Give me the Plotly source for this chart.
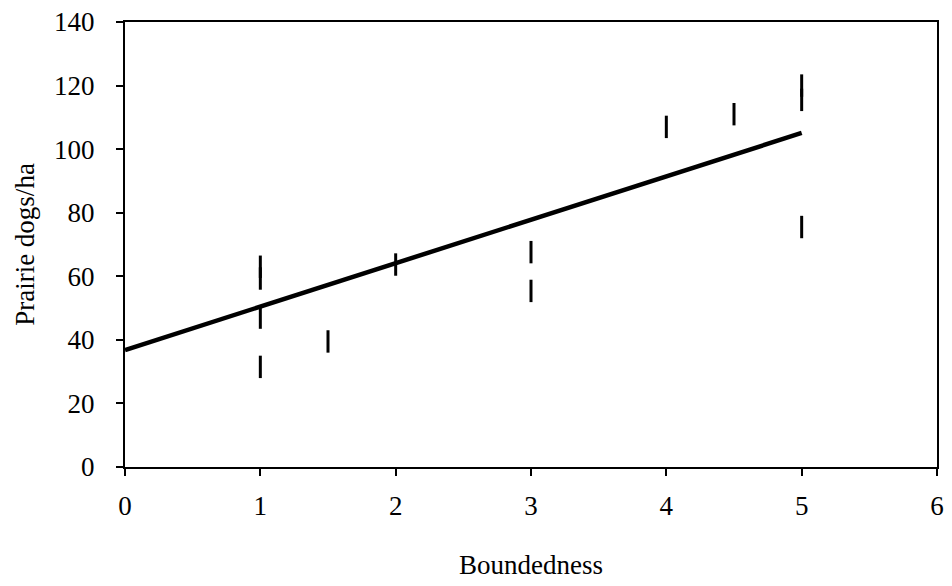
import plotly.graph_objects as go

# Observed densities by boundedness score
boundedness = [1, 1, 1, 1, 1.5, 2, 3, 3, 4, 4.5, 5, 5, 5]
density = [63, 59.3, 47, 31.5, 39.5, 63.7, 67.6, 55.4, 107, 111, 120, 115.5, 75.5]

# Fitted regression line endpoints
fit_x = [0, 5]
fit_y = [36.8, 105.1]

x_ticks = [0, 1, 2, 3, 4, 5, 6]
y_ticks = [0, 20, 40, 60, 80, 100, 120, 140]

font = "Liberation Serif, Times New Roman, serif"

fig = go.Figure()
fig.add_trace(go.Scatter(
    x=fit_x, y=fit_y, mode="lines",
    line=dict(color="black", width=4.5),
    showlegend=False,
))
fig.add_trace(go.Scatter(
    x=boundedness, y=density, mode="markers",
    marker=dict(symbol="line-ns", size=16,
                line=dict(color="black", width=3)),
    showlegend=False,
))

axis_common = dict(
    showgrid=False, zeroline=False, automargin=False,
    showline=True, linecolor="black", linewidth=2, mirror=True,
    ticks="outside", tickcolor="black", tickwidth=2, ticklen=7,
    tickfont=dict(family=font, size=27, color="black"),
)

fig.update_xaxes(
    range=[0, 6], tickvals=x_ticks, **axis_common, ticklabelstandoff=7,
    title=dict(text="Boundedness", font=dict(family=font, size=27, color="black"),
               standoff=35),
)
fig.update_yaxes(
    range=[0, 140], tickvals=y_ticks, **axis_common, ticklabelstandoff=16,
    title=dict(text="Prairie dogs/ha", font=dict(family=font, size=27, color="black"),
               standoff=12),
)

fig.update_layout(
    width=952, height=586,
    margin=dict(l=125, r=15, t=22, b=119),
    paper_bgcolor="white", plot_bgcolor="white",
)

fig.write_html("out.html")
